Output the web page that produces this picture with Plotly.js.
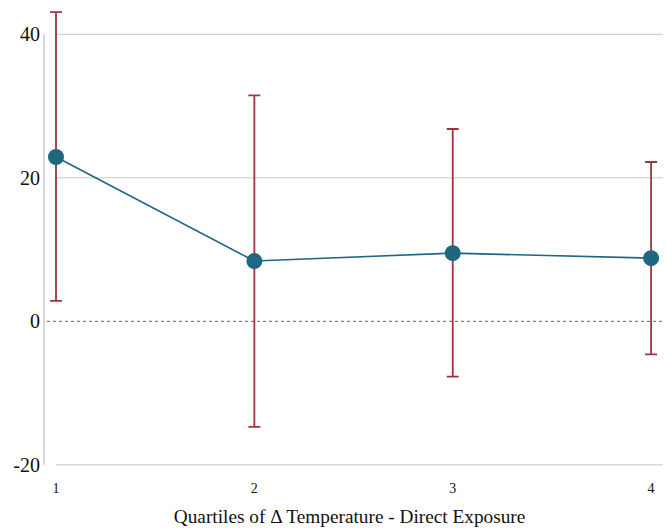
<!DOCTYPE html>
<html><head><meta charset="utf-8">
<script src="https://cdn.plot.ly/plotly-3.0.1.min.js"></script>
<style>html,body{margin:0;padding:0;background:#fff}#chart{width:667px;height:529px}</style>
</head><body><div id="chart"></div>
<script>
const quartiles = [1, 2, 3, 4];
const coef = [22.9, 8.4, 9.5, 8.8];
const ciUpper = [43.1, 31.5, 26.8, 22.2];
const ciLower = [2.85, -14.7, -7.7, -4.6];
const yTicks = [-20, 0, 20, 40];
const xTitle = 'Quartiles of \u0394 Temperature - Direct Exposure';

const errPlus = coef.map((c, i) => ciUpper[i] - c);
const errMinus = coef.map((c, i) => c - ciLower[i]);

const W = 667, L = 0, R = 4;
const pw = W - L - R;
const xr = [0.9, 4.06];
const pxPerUnit = (651 - 56) / 3;
const plotLeftPx = 56 - (1 - xr[0]) * pxPerUnit;
const serif = '"Liberation Serif", "Times New Roman", serif';

const trace = {
  x: quartiles, y: coef, type: 'scatter', mode: 'lines+markers',
  line: {color: '#1f6680', width: 1.6},
  marker: {color: '#1f6680', size: 16},
  error_y: {type: 'data', symmetric: false, array: errPlus, arrayminus: errMinus,
            color: '#9e3440', thickness: 1.8, width: 6},
  cliponaxis: false, showlegend: false
};

const shapes = [];
yTicks.filter(v => v !== 0).forEach(v => shapes.push({type: 'line', xref: 'x', yref: 'y',
  x0: 1, x1: xr[1], y0: v, y1: v, line: {color: '#c8c8c8', width: 1}, layer: 'below'}));
shapes.push({type: 'line', xref: 'x', yref: 'y', x0: 1 - 9 / pxPerUnit, x1: xr[1], y0: 0, y1: 0,
  line: {color: '#666', width: 1, dash: 'dot'}, layer: 'below'});
shapes.push({type: 'line', xref: 'x', yref: 'y', x0: 1 - 12 / pxPerUnit, x1: 1 - 12 / pxPerUnit,
  y0: yTicks[0], y1: yTicks[yTicks.length - 1], line: {color: '#cccccc', width: 1.5}, layer: 'below'});

const layout = {
  width: 667, height: 529,
  margin: {l: L, r: R, t: 2, b: 57},
  paper_bgcolor: '#fff', plot_bgcolor: '#fff',
  font: {family: serif, color: '#111'},
  xaxis: {
    domain: [plotLeftPx / pw, 1], range: xr, tickvals: quartiles, ticktext: quartiles.map(String),
    showgrid: false, zeroline: false, showline: false, ticks: '',
    ticklabelstandoff: 6,
    tickfont: {family: serif, size: 14, color: '#111'},
    title: {text: xTitle, font: {family: serif, size: 19.3, color: '#111'}, standoff: 14}
  },
  yaxis: {
    range: [-21, 44.5], tickvals: yTicks, ticktext: yTicks.map(String),
    anchor: 'free', position: 44 / pw,
    showgrid: false, zeroline: false, showline: false, ticks: '',
    ticklabelstandoff: 4,
    tickfont: {family: serif, size: 20, color: '#111'}
  },
  shapes: shapes
};
Plotly.newPlot('chart', [trace], layout, {displayModeBar: false, staticPlot: true});
</script></body></html>
